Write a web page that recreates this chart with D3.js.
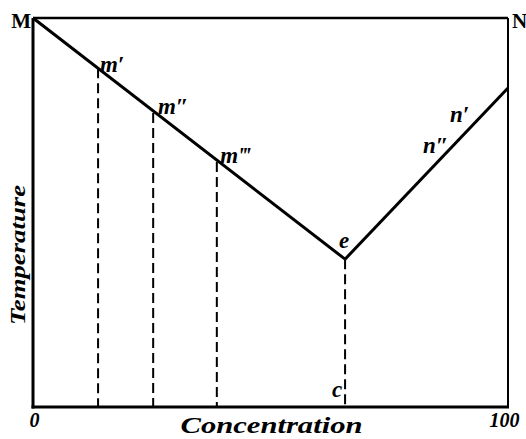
<!DOCTYPE html>
<html><head><meta charset="utf-8">
<script src="https://cdn.jsdelivr.net/npm/d3@7"></script>
<style>
html,body{margin:0;padding:0;background:#fff;}
svg{display:block;}
</style></head>
<body>
<svg id="c" width="526" height="439"></svg>
<script>
// ---- data ----
const leftBranch = [ {x:0, t:100}, {x:65.7, t:38.0} ];      // M -> e
const rightBranch = [ {x:65.7, t:38.0}, {x:100, t:82.0} ];  // e -> N side
const dropX = [13.7, 25.3, 38.7, 65.7];
const dropT = [87.1, 75.6, 63.0, 38.0];
const pointLabels = ["m\u2032", "m\u2033", "m\u2034", "n\u2032", "n\u2033", "e", "c"];
const labelX = [14.1, 26.3, 39.4, 87.8, 82.1, 65.5, 65.1];
const labelT = [86.1, 75.3, 62.7, 73.3, 65.3, 40.9, 2.6];
const xTicks = [0, 100];
const xTickLabels = ["0", "100"];
const cornerLabels = ["M", "N"];
const xTitle = "Concentration";
const yTitle = "Temperature";

// ---- layout ----
const svg = d3.select("#c");
const L = 33, R = 508, T = 18, B = 407;
const x = d3.scaleLinear().domain([0,100]).range([L,R]);
const y = d3.scaleLinear().domain([0,100]).range([B,T]);
const serif = "'Liberation Serif','DejaVu Serif',serif";

// frame
const g = svg.append("g");
g.append("line").attr("x1",x(0)).attr("x2",x(100)).attr("y1",y(100)).attr("y2",y(100))
  .attr("stroke","#000").attr("stroke-width",2.5);
g.append("line").attr("x1",x(100)).attr("x2",x(100)).attr("y1",y(100)).attr("y2",y(0))
  .attr("stroke","#000").attr("stroke-width",2);
g.append("line").attr("x1",x(0)).attr("x2",x(0)).attr("y1",y(100)).attr("y2",y(0)+1.5)
  .attr("stroke","#000").attr("stroke-width",3);

// bottom axis
const ax = svg.append("g").attr("transform",`translate(0,${B})`)
  .call(d3.axisBottom(x).tickValues(xTicks).tickSize(0).tickPadding(6)
        .tickFormat((d,i)=>xTickLabels[i]));
ax.select(".domain").attr("stroke","#000").attr("stroke-width",3).attr("d",`M${L-1.5},0H${R+1}`);
ax.selectAll(".tick text").attr("font-family",serif).attr("font-style","italic")
  .attr("font-weight","bold").attr("font-size",20).attr("fill","#000")
  .attr("dx",(d,i)=>i===0?1:-4);

// dashed verticals
svg.append("g").selectAll("line").data(dropX).join("line")
  .attr("x1",d=>x(d)).attr("x2",d=>x(d))
  .attr("y1",(d,i)=>y(dropT[i])).attr("y2",y(0))
  .attr("stroke","#000").attr("stroke-width",2).attr("stroke-dasharray","10,5");

// liquidus lines
const line = d3.line().x(d=>x(d.x)).y(d=>y(d.t));
[leftBranch, rightBranch].forEach(b=>{
  svg.append("path").attr("d",line(b)).attr("fill","none")
    .attr("stroke","#000").attr("stroke-width",3).attr("stroke-linejoin","miter");
});

// point labels
svg.append("g").selectAll("text").data(pointLabels).join("text")
  .attr("x",(d,i)=>x(labelX[i])).attr("y",(d,i)=>y(labelT[i]))
  .attr("text-anchor",(d,i)=> d==="e" ? "middle" : (d==="c" ? "end" : "start"))
  .attr("font-family",serif).attr("font-style","italic").attr("font-weight","bold")
  .attr("font-size",23).attr("fill","#000").text(d=>d);

// corner labels
svg.append("text").attr("x",x(0)-2).attr("y",y(100)+10).attr("text-anchor","end")
  .attr("font-family",serif).attr("font-weight","bold").attr("font-size",21).text(cornerLabels[0]);
svg.append("text").attr("x",x(100)+4).attr("y",y(100)+10).attr("text-anchor","start")
  .attr("font-family",serif).attr("font-weight","bold").attr("font-size",21).text(cornerLabels[1]);

// titles
svg.append("text").attr("x",(x(0)+x(100))/2+1).attr("y",433).attr("text-anchor","middle")
  .attr("font-family",serif).attr("font-style","italic").attr("font-weight","bold")
  .attr("font-size",24).attr("textLength",182).attr("lengthAdjust","spacingAndGlyphs").text(xTitle);
svg.append("text").attr("transform","translate(25,255) rotate(-90)").attr("text-anchor","middle")
  .attr("font-family",serif).attr("font-style","italic").attr("font-weight","bold")
  .attr("font-size",20).attr("textLength",140).attr("lengthAdjust","spacingAndGlyphs").text(yTitle);
</script>
</body></html>
